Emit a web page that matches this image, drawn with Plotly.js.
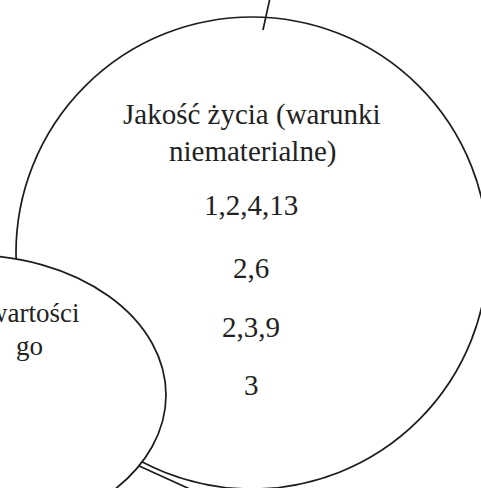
<!DOCTYPE html>
<html>
<head>
<meta charset="utf-8">
<script src="https://cdn.plot.ly/plotly-3.0.1.min.js"></script>
<style>html,body{margin:0;padding:0;background:#fff;}#chart{width:481px;height:488px;}</style>
</head>
<body>
<div id="chart"></div>
<script>
// Text content of the diagram
const titleLines = ["Jakość życia (warunki", "niematerialne)"];
const codes = ["1,2,4,13", "2,6", "2,3,9", "3"];
const leftLines = ["wartości", "go"];

// Layout positions (pixels, y downward)
const titleY = [114, 151];
const codeY = [205, 268, 327, 385];
const codeX = 251;
const leftY = [313, 346];
const leftRightX = [81, 45];

const font = {family: "Liberation Serif", size: 29, color: "#222"};
const leftFont = {family: "Liberation Serif", size: 27, color: "#222"};
const annotations = [];
titleLines.forEach((t, i) => annotations.push({x: 252, y: titleY[i], xref: 'x', yref: 'y', text: t, showarrow: false, xanchor: 'center', yanchor: 'middle', font: font}));
codes.forEach((t, i) => annotations.push({x: codeX, y: codeY[i], xref: 'x', yref: 'y', text: t, showarrow: false, xanchor: 'center', yanchor: 'middle', font: font}));
leftLines.forEach((t, i) => annotations.push({x: leftRightX[i], y: leftY[i], xref: 'x', yref: 'y', text: t, showarrow: false, xanchor: 'right', yanchor: 'middle', font: leftFont}));

const lineStyle = {color: "#1c1c1c", width: 1.7};
const shapes = [
  {type: 'circle', xref: 'x', yref: 'y', x0: 16, x1: 488, y0: 17, y1: 489, line: lineStyle, layer: 'below'},
  {type: 'line', xref: 'x', yref: 'y', x0: 137, y0: 465, x1: 192, y1: 490, line: lineStyle, layer: 'below'},
  {type: 'circle', xref: 'x', yref: 'y', x0: -226, x1: 166, y0: 255, y1: 535, line: lineStyle, fillcolor: '#fff', layer: 'below'},
  {type: 'line', xref: 'x', yref: 'y', x0: 270, y0: -2, x1: 263, y1: 30, line: lineStyle, layer: 'below'}
];

const layout = {
  width: 481, height: 488,
  margin: {l: 0, r: 0, t: 0, b: 0, pad: 0},
  paper_bgcolor: '#fff', plot_bgcolor: '#fff',
  xaxis: {range: [0, 481], visible: false, fixedrange: true},
  yaxis: {range: [488, 0], visible: false, fixedrange: true},
  showlegend: false,
  shapes: shapes,
  annotations: annotations
};
Plotly.newPlot('chart', [{x: [], y: [], type: 'scatter', mode: 'markers'}], layout, {staticPlot: true, displayModeBar: false});
</script>
</body>
</html>
